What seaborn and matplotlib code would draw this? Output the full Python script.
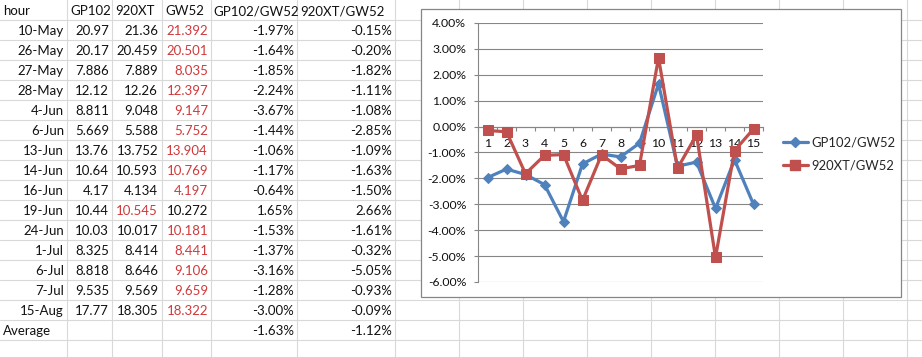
import matplotlib
matplotlib.use("Agg")
import matplotlib.pyplot as plt
import seaborn as sns
import numpy as np
import pandas as pd
from matplotlib.patches import Rectangle
from matplotlib.lines import Line2D
from matplotlib.ticker import FixedLocator, FuncFormatter

# ---------------- data ----------------
dates = ['10-May', '26-May', '27-May', '28-May', '4-Jun', '6-Jun', '13-Jun', '14-Jun',
         '16-Jun', '19-Jun', '24-Jun', '1-Jul', '6-Jul', '7-Jul', '15-Aug']
gp102 = [20.97, 20.17, 7.886, 12.12, 8.811, 5.669, 13.76, 10.64, 4.17, 10.44, 10.03,
         8.325, 8.818, 9.535, 17.77]
xt920 = [21.36, 20.459, 7.889, 12.26, 9.048, 5.588, 13.752, 10.593, 4.134, 10.545,
         10.017, 8.414, 8.646, 9.569, 18.305]
gw52 = [21.392, 20.501, 8.035, 12.397, 9.147, 5.752, 13.904, 10.769, 4.197, 10.272,
        10.181, 8.441, 9.106, 9.659, 18.322]
ratio_gp = [-1.97, -1.64, -1.85, -2.24, -3.67, -1.44, -1.06, -1.17, -0.64, 1.65, -1.53,
            -1.37, -3.16, -1.28, -3.00]
ratio_xt = [-0.15, -0.20, -1.82, -1.11, -1.08, -2.85, -1.09, -1.63, -1.50, 2.66, -1.61,
            -0.32, -5.05, -0.93, -0.09]
avg_gp = -1.63
avg_xt = -1.12
headers = ['hour', 'GP102', '920XT', 'GW52', 'GP102/GW52', '920XT/GW52']
series_names = ['GP102/GW52', '920XT/GW52']
y_ticks = [4, 3, 2, 1, 0, -1, -2, -3, -4, -5, -6]
x_cats = list(range(1, len(dates) + 1))

# ---------------- style ----------------
sns.set_style("white")
plt.rcParams['font.family'] = ['Lato', 'DejaVu Sans']

W, H = 922, 357
fig = plt.figure(figsize=(W / 100, H / 100), dpi=100)
bg = fig.add_axes([0, 0, 1, 1])
bg.set_xlim(0, W)
bg.set_ylim(H, 0)
bg.axis('off')

grid_c = '#D9D9D9'
txt_c = '#111111'
red_c = '#D0393B'
fs_tab = 9.5

# spreadsheet grid
vlines = [67, 112, 162, 211, 297, 395, 459, 523, 587, 651, 715, 779, 843, 907]
for x in vlines:
    bg.plot([x, x], [0, H], color=grid_c, lw=0.8, zorder=1)
for y in range(20, H, 20):
    bg.plot([0, W], [y, y], color=grid_c, lw=0.8, zorder=1)

# headers
col_left = [3, 70, 115, 165, 213, 300]
col_right = [64, 109, 158, 208, 294, 392]
for i, h in enumerate(headers):
    bg.text(col_left[i], 11, h, ha='left', va='center', fontsize=fs_tab, color=txt_c, zorder=2)

for r in range(len(dates)):
    yc = 20 * (r + 1) + 11
    vals = [gp102[r], xt920[r], gw52[r]]
    mx = max(vals)
    bg.text(col_right[0], yc, dates[r], ha='right', va='center', fontsize=fs_tab, color=txt_c)
    for j, v in enumerate(vals):
        bg.text(col_right[j + 1], yc, f"{v:g}", ha='right', va='center', fontsize=fs_tab,
                color=red_c if v == mx else txt_c)
    bg.text(col_right[4], yc, f"{ratio_gp[r]:.2f}%", ha='right', va='center', fontsize=fs_tab, color=txt_c)
    bg.text(col_right[5], yc, f"{ratio_xt[r]:.2f}%", ha='right', va='center', fontsize=fs_tab, color=txt_c)

ya = 20 * (len(dates) + 1) + 11
bg.text(col_left[0], ya, 'Average', ha='left', va='center', fontsize=fs_tab, color=txt_c)
bg.text(col_right[4], ya, f"{avg_gp:.2f}%", ha='right', va='center', fontsize=fs_tab, color=txt_c)
bg.text(col_right[5], ya, f"{avg_xt:.2f}%", ha='right', va='center', fontsize=fs_tab, color=txt_c)

# chart frame
bg.add_patch(Rectangle((421, 9), 901 - 421, 297 - 9, facecolor='white',
                       edgecolor='#868686', lw=0.9, zorder=3))

# ---------------- chart ----------------
L, R, T, B = 478, 763, 23, 282
ax = fig.add_axes([L / W, 1 - B / H, (R - L) / W, (B - T) / H])
ax.set_zorder(5)
ax.patch.set_alpha(0)

blue = '#4F81BD'
red = '#C0504D'
df = pd.DataFrame({'cat': x_cats, 'gp': ratio_gp, 'xt': ratio_xt})
sns.lineplot(data=df, x='cat', y='gp', ax=ax, color=blue, lw=2.3, marker='D',
             markersize=5.5, markeredgecolor=blue, markerfacecolor=blue, zorder=4)
sns.lineplot(data=df, x='cat', y='xt', ax=ax, color=red, lw=2.3, marker='s',
             markersize=6.5, markeredgecolor=red, markerfacecolor=red, zorder=5)

ax.set_xlim(0.5, len(dates) + 0.5)
ax.set_ylim(-6, 4)
ax.set_xlabel('')
ax.set_ylabel('')

ax.set_yticks(y_ticks)
ax.yaxis.set_major_formatter(FuncFormatter(lambda v, p: f"{v:.2f}%"))
ax.grid(axis='y', color='#868686', lw=0.8)
ax.grid(axis='x', visible=False)
for s in ['top', 'right']:
    ax.spines[s].set_visible(False)
ax.spines['left'].set_color('#868686')
ax.spines['left'].set_linewidth(0.8)
ax.spines['bottom'].set_position(('data', 0))
ax.spines['bottom'].set_color('#868686')
ax.spines['bottom'].set_linewidth(0.8)

fs_ch = 8.8
ax.tick_params(axis='y', direction='out', length=3, width=0.8, color='#868686',
               pad=5.5, labelsize=fs_ch, labelcolor=txt_c, left=True)
ax.xaxis.set_major_locator(FixedLocator(np.arange(0.5, len(dates) + 1, 1)))
ax.xaxis.set_major_formatter(FuncFormatter(lambda v, p: ''))
ax.xaxis.set_minor_locator(FixedLocator(x_cats))
ax.xaxis.set_minor_formatter(FuncFormatter(lambda v, p: f"{int(v)}"))
ax.tick_params(axis='x', which='major', direction='out', length=3, width=0.8,
               color='#868686', bottom=True)
ax.tick_params(axis='x', which='minor', length=0, pad=8, labelsize=fs_ch,
               labelcolor=txt_c, bottom=True)

handles = [Line2D([], [], color=blue, lw=2.3, marker='D', markersize=5.5),
           Line2D([], [], color=red, lw=2.3, marker='s', markersize=6.5)]
fig.legend(handles, series_names, loc='center left', bbox_to_anchor=(783, 154),
           bbox_transform=bg.transData, frameon=False, fontsize=9.4,
           handlelength=1.9, handletextpad=0.25, labelspacing=0.8,
           borderpad=0, borderaxespad=0)

fig.savefig('out.png', dpi=100)
